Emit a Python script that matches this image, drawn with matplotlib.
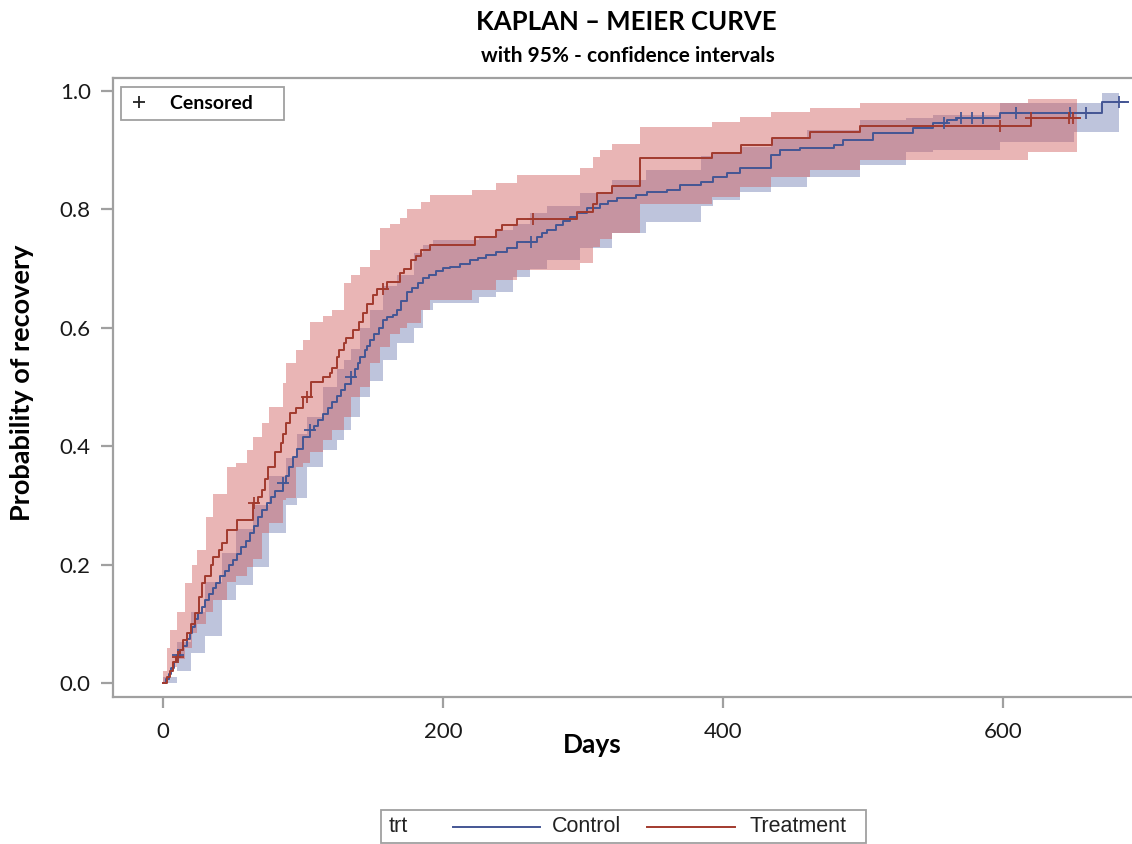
import numpy as np
import matplotlib
matplotlib.use("Agg")
import matplotlib.pyplot as plt
from matplotlib.lines import Line2D
from matplotlib.patches import Rectangle

# Control group: step curve (days, cumulative probability of recovery)
ctl_time = [0, 2, 4, 6, 8, 10, 12, 14, 17, 19,
            21, 23, 25, 28, 30, 33, 36, 38, 41, 44,
            47, 50, 53, 56, 59, 62, 65, 68, 71, 74,
            77, 80, 86, 88, 90, 93, 96, 100, 105, 108,
            111, 114, 118, 121, 124, 127, 130, 134, 137, 139,
            141, 144, 146, 148, 151, 154, 157, 160, 164, 167,
            170, 174, 178, 182, 186, 190, 195, 200, 205, 212,
            219, 225, 231, 238, 246, 253, 267, 271, 274, 281,
            286, 291, 296, 303, 312, 318, 324, 338, 346, 360,
            369, 384, 393, 403, 412, 434, 441, 455, 479, 486,
            507, 536, 550, 560, 567, 598, 671, 689]
ctl_prob = [0.000, 0.007, 0.015, 0.025, 0.035, 0.047, 0.055, 0.063, 0.075, 0.085,
            0.095, 0.108, 0.118, 0.128, 0.140, 0.150, 0.160, 0.169, 0.180, 0.190,
            0.200, 0.208, 0.218, 0.230, 0.240, 0.253, 0.265, 0.280, 0.292, 0.304,
            0.315, 0.325, 0.338, 0.350, 0.365, 0.382, 0.395, 0.416, 0.427, 0.435,
            0.445, 0.455, 0.465, 0.475, 0.485, 0.495, 0.505, 0.517, 0.530, 0.540,
            0.551, 0.562, 0.570, 0.579, 0.590, 0.600, 0.613, 0.618, 0.622, 0.630,
            0.645, 0.660, 0.668, 0.676, 0.684, 0.690, 0.696, 0.701, 0.703, 0.708,
            0.714, 0.718, 0.723, 0.728, 0.735, 0.745, 0.753, 0.760, 0.765, 0.774,
            0.780, 0.787, 0.794, 0.802, 0.810, 0.815, 0.819, 0.824, 0.830, 0.833,
            0.841, 0.846, 0.855, 0.861, 0.870, 0.892, 0.900, 0.904, 0.909, 0.917,
            0.929, 0.938, 0.946, 0.951, 0.954, 0.963, 0.981, 0.981]

# Control group: 95% confidence band
ctl_band_time = [0, 10, 20, 30, 42, 52, 64, 76, 88, 96,
                 103, 114, 124, 129, 134, 141, 148, 157, 167, 179,
                 186, 193, 226, 238, 250, 262, 274, 298, 321, 345,
                 384, 393, 412, 434, 460, 498, 531, 550, 598, 651,
                 671, 683]
ctl_lower = [0.000, 0.020, 0.050, 0.080, 0.140, 0.165, 0.196, 0.253, 0.300, 0.313,
             0.365, 0.394, 0.410, 0.427, 0.450, 0.483, 0.510, 0.546, 0.575, 0.600,
             0.630, 0.642, 0.652, 0.660, 0.686, 0.700, 0.714, 0.735, 0.760, 0.779,
             0.805, 0.816, 0.830, 0.838, 0.855, 0.875, 0.897, 0.900, 0.914, 0.930,
             0.930, 0.930]
ctl_upper = [0.010, 0.070, 0.120, 0.170, 0.220, 0.260, 0.300, 0.350, 0.380, 0.420,
             0.450, 0.500, 0.530, 0.545, 0.565, 0.600, 0.630, 0.670, 0.690, 0.726,
             0.740, 0.748, 0.755, 0.765, 0.775, 0.794, 0.805, 0.828, 0.850, 0.867,
             0.890, 0.895, 0.905, 0.920, 0.935, 0.951, 0.955, 0.960, 0.980, 0.980,
             0.997, 0.997]

# Treatment group: step curve
trt_time = [0, 3, 5, 7, 9, 12, 14, 17, 20, 23,
            26, 28, 30, 34, 36, 40, 42, 46, 53, 64,
            68, 71, 73, 75, 80, 84, 86, 88, 91, 95,
            100, 106, 114, 119, 121, 124, 126, 129, 131, 136,
            140, 143, 146, 150, 153, 160, 169, 172, 177, 181,
            184, 191, 223, 238, 242, 253, 296, 307, 310, 321,
            341, 392, 413, 435, 462, 498, 620, 655]
trt_prob = [0.000, 0.010, 0.020, 0.035, 0.044, 0.055, 0.072, 0.085, 0.100, 0.118,
            0.145, 0.169, 0.180, 0.200, 0.213, 0.225, 0.236, 0.258, 0.275, 0.304,
            0.315, 0.326, 0.345, 0.365, 0.390, 0.405, 0.420, 0.440, 0.456, 0.465,
            0.483, 0.508, 0.517, 0.524, 0.532, 0.550, 0.563, 0.575, 0.583, 0.596,
            0.610, 0.625, 0.640, 0.655, 0.666, 0.677, 0.692, 0.700, 0.714, 0.722,
            0.731, 0.740, 0.753, 0.765, 0.774, 0.784, 0.796, 0.810, 0.828, 0.840,
            0.887, 0.895, 0.909, 0.920, 0.931, 0.941, 0.954, 0.954]

# Treatment group: 95% confidence band
trt_band_time = [0, 3, 5, 10, 16, 21, 24, 31, 36, 46,
                 52, 60, 64, 71, 76, 86, 88, 95, 100, 105,
                 114, 121, 129, 134, 141, 148, 155, 162, 169, 174,
                 184, 191, 221, 238, 253, 298, 307, 312, 321, 341,
                 392, 412, 434, 462, 498, 618, 653]
trt_lower = [0.000, 0.005, 0.027, 0.040, 0.060, 0.084, 0.100, 0.120, 0.140, 0.170,
             0.180, 0.196, 0.210, 0.253, 0.270, 0.309, 0.313, 0.365, 0.372, 0.390,
             0.410, 0.427, 0.450, 0.483, 0.500, 0.540, 0.568, 0.590, 0.600, 0.608,
             0.630, 0.647, 0.664, 0.681, 0.698, 0.709, 0.737, 0.750, 0.760, 0.810,
             0.821, 0.838, 0.855, 0.867, 0.883, 0.897, 0.897]
trt_upper = [0.020, 0.060, 0.090, 0.120, 0.169, 0.200, 0.225, 0.280, 0.320, 0.365,
             0.372, 0.394, 0.416, 0.440, 0.466, 0.507, 0.540, 0.563, 0.580, 0.610,
             0.620, 0.630, 0.676, 0.690, 0.703, 0.731, 0.769, 0.775, 0.785, 0.800,
             0.813, 0.824, 0.833, 0.845, 0.858, 0.870, 0.889, 0.900, 0.910, 0.939,
             0.948, 0.956, 0.965, 0.971, 0.980, 0.986, 0.986]

# censored observations (days)
ctl_cens = [11, 86, 105, 134, 263, 558, 570, 578, 586, 609, 648, 659, 683]
trt_cens = [11, 65, 103, 157, 264, 598, 620, 647, 650]

x_ticks = [0, 200, 400, 600]
y_ticks = [0.0, 0.2, 0.4, 0.6, 0.8, 1.0]

blue = '#445694'
red = '#A23A2E'
blue_fill = '#6F7EB3'
red_fill = '#D05B5B'
grey = '#A0A0A0'
bold_font = 'Lato'


def step_value(times, probs, t):
    i = np.searchsorted(times, t, side='right') - 1
    return np.asarray(probs)[i]


fig = plt.figure(figsize=(11.32, 8.44), dpi=100)
ax = fig.add_axes([113 / 1132, 1 - 697 / 844, 1018 / 1132, 619 / 844])

# bands first, lines on top
ax.fill_between(ctl_band_time, ctl_lower, ctl_upper, step='post',
                color=blue_fill, alpha=0.45, linewidth=0)
ax.fill_between(trt_band_time, trt_lower, trt_upper, step='post',
                color=red_fill, alpha=0.45, linewidth=0)

ax.step(ctl_time, ctl_prob, where='post', color=blue, lw=1.4)
ax.step(trt_time, trt_prob, where='post', color=red, lw=1.4)

ax.plot(ctl_cens, step_value(ctl_time, ctl_prob, ctl_cens), '+',
        color=blue, ms=9, mew=1.3)
ax.plot(trt_cens, step_value(trt_time, trt_prob, trt_cens), '+',
        color=red, ms=9, mew=1.3)

ax.set_xlim(-35.7, 691.4)
ax.set_ylim(-0.0236, 1.022)
ax.set_xticks(x_ticks)
ax.set_yticks(y_ticks)
ax.set_yticklabels([f'{v:.1f}' for v in y_ticks])

for side in ['left', 'bottom', 'top']:
    ax.spines[side].set_color(grey)
    ax.spines[side].set_linewidth(1.6)
ax.spines['right'].set_visible(False)
ax.tick_params(axis='both', colors=grey, width=1.6, labelcolor='#1a1a1a',
               labelsize=16)
ax.tick_params(axis='y', length=9, pad=7)
ax.tick_params(axis='x', length=8, pad=10)
for lbl in ax.get_xticklabels() + ax.get_yticklabels():
    lbl.set_family(bold_font)

# censored legend inside the plot
cens_handle = Line2D([], [], marker='+', color='#222222', ls='none', ms=9, mew=1.3)
leg = ax.legend([cens_handle], ['Censored' + ' ' * 5], loc='upper left',
                bbox_to_anchor=(8 / 1018, 1 - 9 / 619), borderaxespad=0,
                fancybox=False, edgecolor=grey, framealpha=1,
                prop={'family': bold_font, 'weight': 'bold', 'size': 14},
                handlelength=1.0, handletextpad=1.1, borderpad=0.4)
leg.get_frame().set_linewidth(1.3)

# titles and axis labels
fig.text(626 / 1132, 1 - 22 / 844, 'KAPLAN – MEIER CURVE', ha='center', va='center',
         family=bold_font, weight='bold', fontsize=18.5)
fig.text(628 / 1132, 1 - 56 / 844, 'with 95% - confidence intervals', ha='center',
         va='center', family=bold_font, weight='bold', fontsize=15)
fig.text(592 / 1132, 1 - 745 / 844, 'Days', ha='center', va='center',
         family=bold_font, weight='bold', fontsize=19)
fig.text(22 / 1132, 1 - 383 / 844, 'Probability of recovery', ha='center',
         va='center', rotation=90, family=bold_font, weight='bold', fontsize=19.5)

# group legend at the bottom
yl = 1 - 827 / 844
fig.patches.append(Rectangle((381 / 1132, 1 - 843 / 844), 485 / 1132, 33 / 844,
                             transform=fig.transFigure, fill=False,
                             edgecolor=grey, linewidth=1.3))
leg_font = dict(family='Liberation Sans', fontsize=15.5, color='#222222', va='center')
fig.text(389 / 1132, yl, 'trt', ha='left', **leg_font)
fig.lines.append(Line2D([453 / 1132, 540 / 1132], [yl, yl], transform=fig.transFigure,
                        color=blue, lw=1.4))
fig.text(552 / 1132, yl, 'Control', ha='left', **leg_font)
fig.lines.append(Line2D([647 / 1132, 735 / 1132], [yl, yl], transform=fig.transFigure,
                        color=red, lw=1.4))
fig.text(749 / 1132, yl, 'Treatment', ha='left', **leg_font)

fig.savefig('out.png', dpi=100)
